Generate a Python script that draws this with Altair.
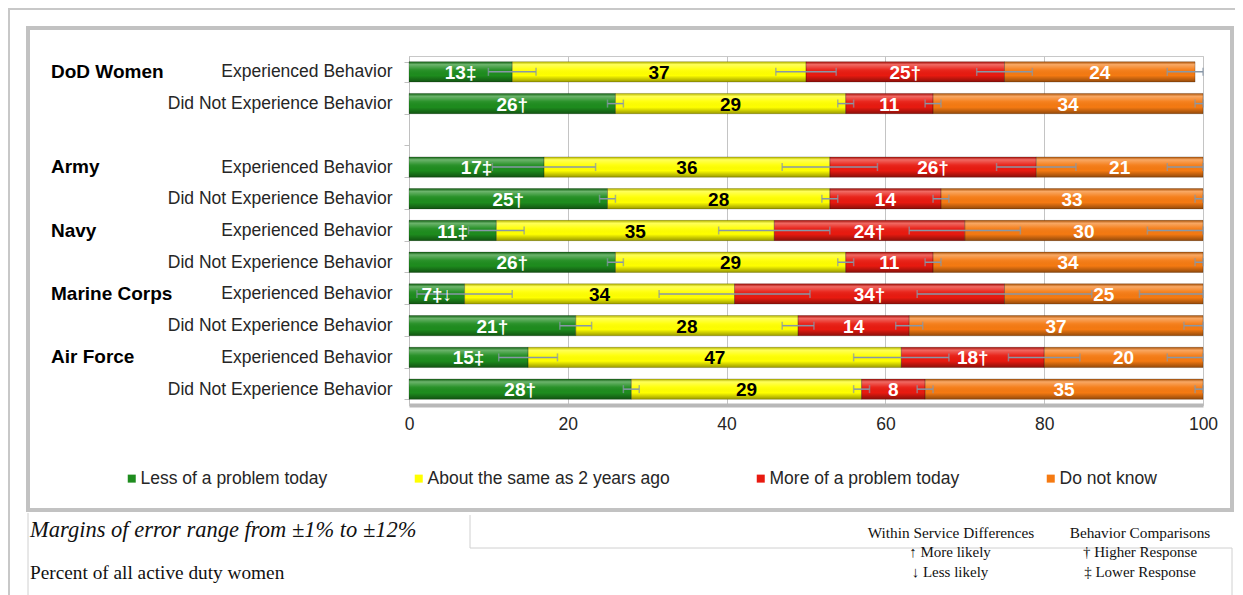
import altair as alt
import pandas as pd

SANS = "Liberation Sans, Arial, sans-serif"
SERIF = "Liberation Serif, Times New Roman, serif"

groups = ["DoD Women", "Army", "Navy", "Marine Corps", "Air Force"]
behaviors = ["Experienced Behavior", "Did Not Experience Behavior"]
categories = ["Less of a problem today", "About the same as 2 years ago",
              "More of a problem today", "Do not know"]
colors = ["#1e8c1e", "#ffff00", "#e81a10", "#f57a12"]

# rows in order: group x behavior
less_vals = [13, 26, 17, 25, 11, 26, 7, 21, 15, 28]
same_vals = [37, 29, 36, 28, 35, 29, 34, 28, 47, 29]
more_vals = [25, 11, 26, 14, 24, 11, 34, 14, 18, 8]
dk_vals = [24, 34, 21, 33, 30, 34, 25, 37, 20, 35]

less_marks = ["‡", "†", "‡", "†", "‡", "†", "‡↓", "†", "‡", "†"]
same_marks = ["", "", "", "", "", "", "", "", "", ""]
more_marks = ["†", "", "†", "", "†", "", "†", "", "†", ""]
dk_marks = ["", "", "", "", "", "", "", "", "", ""]

# margins of error (at the end of each segment)
less_moe = [3, 1, 6.5, 1, 3.5, 1, 6, 2, 3.7, 1]
same_moe = [3.8, 1, 6, 1, 7, 1, 9.5, 2, 6, 1]
more_moe = [3.5, 1, 5, 1, 7, 1, 11, 1.7, 4.5, 1]
dk_moe = [3.5, 1, 4.5, 1, 7, 1, 8, 2.4, 4.5, 1]

row_keys = [f"{g}|{b}" for g in groups for b in behaviors]
row_domain = row_keys[:2] + ["gap|"] + row_keys[2:]

series = [
    (categories[0], less_vals, less_marks, less_moe),
    (categories[1], same_vals, same_marks, same_moe),
    (categories[2], more_vals, more_marks, more_moe),
    (categories[3], dk_vals, dk_marks, dk_moe),
]

recs = []
for i, key in enumerate(row_keys):
    start = 0
    for cat, vals, marks, moes in series:
        v = vals[i]
        end = start + v
        recs.append({
            "row": key, "category": cat, "start": start, "end": end,
            "mid": (start + end) / 2, "label": f"{v}{marks[i]}",
            "lo": max(end - moes[i], 0), "hi": min(end + moes[i], 100),
        })
        start = end
df = pd.DataFrame(recs)

grp_df = pd.DataFrame({"row": [f"{g}|{behaviors[0]}" for g in groups], "group": groups})

X_AXIS = alt.Axis(values=[0, 20, 40, 60, 80, 100], title=None, grid=True,
                  gridColor="#c4c4c4", domainColor="#b8b8b8", domainWidth=4,
                  ticks=False, labelFontSize=17.5, labelColor="#262626",
                  labelPadding=10, labelFont=SANS, labelFlush=False)
X_SCALE = alt.Scale(domain=[0, 100], nice=False, zero=True)
Y = alt.Y("row:N",
          scale=alt.Scale(domain=row_domain, paddingInner=0.36, paddingOuter=0.18),
          axis=alt.Axis(title=None, labelExpr="split(datum.value, '|')[1]",
                        labelFont=SANS, labelFontSize=17.5, labelColor="#262626",
                        labelPadding=12, domainColor="#c0c0c0", tickColor="#c0c0c0",
                        tickSize=5, tickBand="extent", labelLimit=400))

base = alt.Chart(df)

bars = base.mark_bar().encode(
    x=alt.X("start:Q", scale=X_SCALE, axis=X_AXIS),
    x2="end:Q",
    y=Y,
    color=alt.Color("category:N", scale=alt.Scale(domain=categories, range=colors),
                    legend=alt.Legend(orient="none", legendX=-286, legendY=413.5,
                                      direction="horizontal", columns=4, title=None,
                                      symbolType="square", symbolSize=64,
                                      symbolStrokeWidth=0, labelFontSize=17.5,
                                      labelFont=SANS, labelColor="#262626",
                                      labelOffset=0, columnPadding=82,
                                      labelLimit=500)),
)

shade = base.mark_bar(color=alt.Gradient(
    gradient="linear", x1=0, x2=0, y1=0, y2=1,
    stops=[alt.GradientStop(color="rgba(0,0,0,0.28)", offset=0),
           alt.GradientStop(color="rgba(255,255,255,0.35)", offset=0.14),
           alt.GradientStop(color="rgba(255,255,255,0.06)", offset=0.4),
           alt.GradientStop(color="rgba(0,0,0,0.0)", offset=0.68),
           alt.GradientStop(color="rgba(0,0,0,0.4)", offset=1)]),
    stroke="rgba(0,0,0,0.25)", strokeWidth=0.8).encode(
    x=alt.X("start:Q", scale=X_SCALE, axis=X_AXIS),
    x2="end:Q",
    y=Y,
)

err = base.mark_rule(color="#8797a8", strokeWidth=1.5).encode(
    x=alt.X("lo:Q", scale=X_SCALE, axis=X_AXIS), x2="hi:Q", y=Y)

caps = base.transform_fold(["lo", "hi"], as_=["k", "v"]).mark_tick(
    color="#8797a8", thickness=1.5, size=8).encode(
    x=alt.X("v:Q", scale=X_SCALE, axis=X_AXIS), y=Y)

txt_white = base.transform_filter(
    alt.datum.category != categories[1]).mark_text(
    font=SANS, fontSize=19, fontWeight="bold", color="white", baseline="middle", dy=1
).encode(x=alt.X("mid:Q", scale=X_SCALE, axis=X_AXIS), y=Y, text="label:N")

txt_black = base.transform_filter(
    alt.datum.category == categories[1]).mark_text(
    font=SANS, fontSize=19, fontWeight="bold", color="black", baseline="middle", dy=1
).encode(x=alt.X("mid:Q", scale=X_SCALE, axis=X_AXIS), y=Y, text="label:N")

grp = alt.Chart(grp_df).mark_text(
    font=SANS, fontSize=19, fontWeight="bold", color="black", align="left",
    baseline="middle"
).encode(x=alt.value(-358), y=Y, text="group:N")

one = pd.DataFrame({"d": [0]})

def frame_rect(x, x2, y, y2, stroke, width):
    return alt.Chart(one).mark_rect(fillOpacity=0, stroke=stroke, strokeWidth=width).encode(
        x=alt.value(x), x2=alt.value(x2), y=alt.value(y), y2=alt.value(y2))

def frame_rule(x, x2, y, y2, stroke, width):
    return alt.Chart(one).mark_rule(color=stroke, strokeWidth=width).encode(
        x=alt.value(x), x2=alt.value(x2), y=alt.value(y), y2=alt.value(y2))

def note(t, x, y, size, align="left", italic=False, font=SERIF, color="#111"):
    return alt.Chart(pd.DataFrame({"t": [t]})).mark_text(
        font=font, fontSize=size, align=align, baseline="middle", color=color,
        fontStyle="italic" if italic else "normal").encode(
        text="t:N", x=alt.value(x), y=alt.value(y))

page = frame_rect(-400, 900, -47, 600, "#c8c8c8", 2)
box = frame_rect(-381, 823, -28, 454, "#c2c2c2", 4)
r1 = frame_rule(-381, -381, 457, 545, "#d0d0d0", 1)
r2 = frame_rule(61, 823, 492, 492, "#d0d0d0", 1)
r3 = frame_rule(61, 61, 459, 492, "#d0d0d0", 1)
r4 = frame_rule(823, 823, 492, 545, "#d0d0d0", 1)

notes = [
    note("Margins of error range from ±1% to ±12%", -379, 474, 22.5, italic=True),
    note("Percent of all active duty women", -379, 517, 19.3),
    note("Within Service Differences", 542, 477, 15.3, align="center"),
    note("Behavior Comparisons", 731, 477, 15.3, align="center"),
    note("↑ More likely", 541, 496, 15, align="center"),
    note("↓ Less likely", 541, 516, 15, align="center"),
    note("† Higher Response", 731, 496, 15, align="center"),
    note("‡ Lower Response", 731, 516, 15, align="center"),
]

chart = alt.layer(
    page, box, r1, r2, r3, r4,
    bars, shade, err, caps, txt_white, txt_black, grp, *notes
).properties(
    width=794, height=349,
    autosize=alt.AutoSizeParams(type="none"),
    padding={"left": 401, "top": 48, "right": 32, "bottom": 190},
    background="white",
).configure_view(stroke="#c8c8c8")

chart.save("out.html", embed_options={"renderer": "svg", "actions": False})
